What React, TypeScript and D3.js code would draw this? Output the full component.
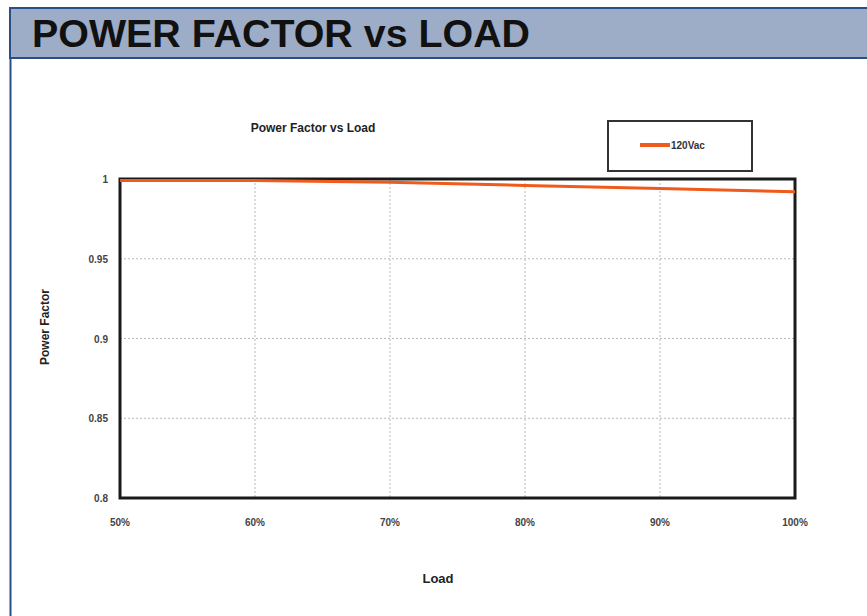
import { useEffect, useRef } from 'react';
import * as d3 from 'd3';

// Power factor vs load, single 120Vac series
const loads = [50, 60, 70, 80, 90, 100];
const powerFactor = [0.999, 0.999, 0.998, 0.996, 0.994, 0.992];
const yTicks = [0.8, 0.85, 0.9, 0.95, 1];
const seriesName = '120Vac';

const W = 867;
const H = 616;

const App = () => {
    const svgRef = useRef<SVGSVGElement | null>(null);

    useEffect(() => {
        const svg = d3.select(svgRef.current);
        svg.selectAll('*').remove();

        // page frame + header band
        svg.append('rect').attr('width', W).attr('height', H).attr('fill', '#fff');
        svg.append('line')
            .attr('x1', 10.5).attr('x2', 10.5).attr('y1', 8).attr('y2', H)
            .attr('stroke', '#2a4f86').attr('stroke-width', 2);
        svg.append('rect')
            .attr('x', 10).attr('y', 8).attr('width', W).attr('height', 50)
            .attr('fill', '#9dadc7').attr('stroke', '#2a4f86').attr('stroke-width', 2);
        svg.append('text')
            .attr('x', 32).attr('y', 47)
            .style('font-family', "'Liberation Sans', Arial, sans-serif")
            .style('font-weight', 700)
            .style('font-size', '38px')
            .attr('textLength', 498)
            .attr('lengthAdjust', 'spacingAndGlyphs')
            .attr('fill', '#111')
            .text('POWER FACTOR vs LOAD');

        const m = { left: 120, right: 795, top: 179, bottom: 498 };
        const x = d3.scaleLinear().domain([50, 100]).range([m.left, m.right]);
        const y = d3.scaleLinear().domain([0.8, 1]).range([m.bottom, m.top]);

        const font = "'Liberation Sans', Arial, sans-serif";
        const g = svg.append('g');

        // grid
        g.selectAll('.vg').data(loads.slice(1, -1)).join('line')
            .attr('x1', d => x(d)).attr('x2', d => x(d))
            .attr('y1', m.top).attr('y2', m.bottom)
            .attr('stroke', '#b8b8b8').attr('stroke-dasharray', '2,2');
        g.selectAll('.hg').data(yTicks.slice(1, -1)).join('line')
            .attr('x1', m.left).attr('x2', m.right)
            .attr('y1', d => y(d)).attr('y2', d => y(d))
            .attr('stroke', '#b8b8b8').attr('stroke-dasharray', '2,2');

        // plot frame
        g.append('rect')
            .attr('x', m.left).attr('y', m.top)
            .attr('width', m.right - m.left).attr('height', m.bottom - m.top)
            .attr('fill', 'none').attr('stroke', '#1a1a1a').attr('stroke-width', 3);

        // series line
        const line = d3.line<number>()
            .x((_, i) => x(loads[i]))
            .y(d => y(d));
        g.append('path')
            .datum(powerFactor)
            .attr('d', line)
            .attr('fill', 'none')
            .attr('stroke', '#f05a1a')
            .attr('stroke-width', 3);

        // tick labels
        g.selectAll('.yl').data(yTicks).join('text')
            .attr('x', 108).attr('y', d => y(d) + 4)
            .attr('text-anchor', 'end')
            .style('font-family', font).style('font-size', '10px').style('font-weight', 700)
            .attr('fill', '#444')
            .text(d => d3.format('')(d));
        g.selectAll('.xl').data(loads).join('text')
            .attr('x', d => x(d)).attr('y', 526)
            .attr('text-anchor', 'middle')
            .style('font-family', font).style('font-size', '10px').style('font-weight', 700)
            .attr('fill', '#444')
            .text(d => `${d}%`);

        // axis titles
        g.append('text')
            .attr('transform', 'translate(49,327) rotate(-90)')
            .attr('text-anchor', 'middle')
            .style('font-family', font).style('font-size', '12px').style('font-weight', 700)
            .attr('fill', '#222')
            .text('Power Factor');
        g.append('text')
            .attr('x', 438).attr('y', 583)
            .attr('text-anchor', 'middle')
            .style('font-family', font).style('font-size', '13px').style('font-weight', 700)
            .attr('fill', '#222')
            .text('Load');

        // chart title
        g.append('text')
            .attr('x', 313).attr('y', 132)
            .attr('text-anchor', 'middle')
            .style('font-family', font).style('font-size', '12px').style('font-weight', 700)
            .attr('fill', '#222')
            .text('Power Factor vs Load');

        // legend
        const lg = g.append('g').attr('transform', 'translate(608,121)');
        lg.append('rect')
            .attr('width', 144).attr('height', 50)
            .attr('fill', '#fff').attr('stroke', '#333').attr('stroke-width', 2);
        lg.append('line')
            .attr('x1', 32).attr('x2', 62).attr('y1', 24).attr('y2', 24)
            .attr('stroke', '#f05a1a').attr('stroke-width', 4);
        lg.append('text')
            .attr('x', 63).attr('y', 28)
            .style('font-family', font).style('font-size', '10px').style('font-weight', 700)
            .attr('fill', '#333')
            .text(seriesName);
    }, []);

    return (
        <div style={{ position: 'fixed', left: 0, top: 0 }}>
            <svg ref={svgRef} width={W} height={H} />
        </div>
    );
};

export default App;
